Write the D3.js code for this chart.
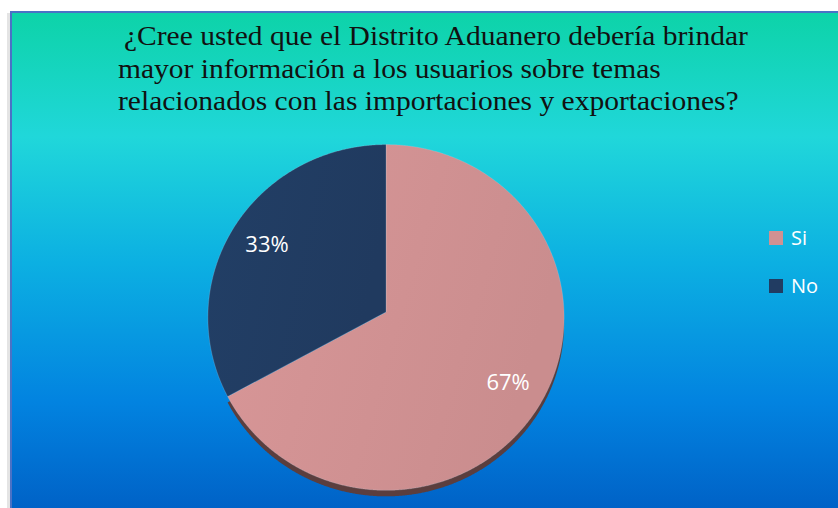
<!DOCTYPE html>
<html><head><meta charset="utf-8">
<script src="https://cdn.jsdelivr.net/npm/d3@7"></script>
<style>html,body{margin:0;padding:0;background:#fff;overflow:hidden}</style>
</head><body>
<svg id="chart" width="838" height="508"></svg>
<script>
// ---- data ----
const categories = ["Si", "No"];
const values = [67, 33];
const labels = ["67%", "33%"];
const colors = ["#d09192", "#213c62"];
const sideColors = ["#5b3e3e", "none"];
const titleLines = [
  "\u00bfCree usted que el Distrito Aduanero deber\u00eda brindar",
  "mayor informaci\u00f3n a los usuarios sobre temas",
  "relacionados con las importaciones y exportaciones?"
];

const svg = d3.select("#chart");
const defs = svg.append("defs");

// background gradient
const bg = defs.append("linearGradient").attr("id","bg").attr("x1",0).attr("y1",0).attr("x2",0).attr("y2",1);
[[0,"#0dd3a8"],[0.25,"#20d7da"],[0.5,"#0cb0e2"],[0.78,"#0283e0"],[1,"#0061c6"]]
  .forEach(([o,c])=>bg.append("stop").attr("offset",o).attr("stop-color",c));

// left shadow + frame
svg.append("rect").attr("x",7).attr("y",13).attr("width",4).attr("height",495).attr("fill","#e4e4e4");
svg.append("rect").attr("x",11).attr("y",12).attr("width",830).attr("height",500)
  .attr("fill","url(#bg)").attr("stroke","#4a72c6").attr("stroke-width",2);

// title
const tx = [124,118,118], ty=[45,78,110];
const title = svg.append("g").attr("transform","scale(1.055,1)");
titleLines.forEach((t,i)=>title.append("text")
  .attr("x",tx[i]/1.055).attr("y",ty[i])
  .attr("font-family","'Liberation Serif','Times New Roman',serif")
  .attr("font-size",28).attr("fill","#111").text(t));

// pie with slight perspective
const cx = 386, cy = 312, R = 178, D = 1363, th = 14*Math.PI/180;
function proj(x, y){
  const yy = y*Math.cos(th), z = y*Math.sin(th), s = D/(D - z);
  return [cx + x*s, cy + yy*s];
}
function projContext(){
  const p = d3.path(); let started = false;
  return {
    path: p,
    moveTo(x,y){ const q=proj(x,y); p.moveTo(q[0],q[1]); started=true; },
    lineTo(x,y){ const q=proj(x,y); if(!started){p.moveTo(q[0],q[1]);started=true;} else p.lineTo(q[0],q[1]); },
    arc(x,y,r,a0,a1,ccw){
      let da = a1 - a0;
      if(!ccw && da < 0) da += 2*Math.PI;
      if(ccw && da > 0) da -= 2*Math.PI;
      const n = Math.max(2, Math.ceil(Math.abs(da)/0.005));
      for(let i=0;i<=n;i++){
        const a = a0 + da*i/n;
        this.lineTo(x + r*Math.cos(a), y + r*Math.sin(a));
      }
    },
    closePath(){ p.closePath(); },
    rect(){}
  };
}
const pie = d3.pie().sort(null).value(d=>d)(values);
const arcGen = d3.arc().innerRadius(0).outerRadius(R);
function projPath(d){ const c = projContext(); arcGen.context(c)(d); return c.path.toString(); }

// gradients for slices
colors.forEach((c,i)=>{
  const g = defs.append("linearGradient").attr("id","sg"+i).attr("x1",0).attr("y1",0).attr("x2",1).attr("y2",0.3);
  g.append("stop").attr("offset",0).attr("stop-color",d3.color(c).brighter(0.12));
  g.append("stop").attr("offset",1).attr("stop-color",d3.color(c).darker(0.08));
});

// side (depth)
svg.append("g").attr("transform","translate(0,6)").selectAll("path").data(pie).join("path")
  .attr("d",projPath).attr("fill",(d,i)=>sideColors[i]);
// top face
svg.append("g").selectAll("path").data(pie).join("path")
  .attr("d",projPath).attr("fill",(d,i)=>`url(#sg${i})`)
  .attr("stroke","rgba(190,215,235,0.45)").attr("stroke-width",0.5);

// labels
const lblArc = d3.arc().innerRadius(140).outerRadius(140);
svg.append("g").selectAll("text").data(pie).join("text")
  .attr("transform",d=>{ const c=lblArc.centroid(d); const q=proj(c[0],c[1]); return `translate(${q[0]},${q[1]})`; })
  .attr("text-anchor","middle").attr("dy","0.36em")
  .attr("font-family","'Open Sans',sans-serif").attr("font-size",22).attr("fill","#fff")
  .text((d,i)=>labels[i]);

// legend
const lg = svg.append("g").selectAll("g").data(categories).join("g")
  .attr("transform",(d,i)=>`translate(769,${231+i*48})`);
lg.append("rect").attr("width",14).attr("height",14).attr("fill",(d,i)=>colors[i]);
lg.append("text").attr("x",22).attr("y",14).attr("font-family","'Open Sans',sans-serif")
  .attr("font-size",20).attr("fill","#fff").text(d=>d);
</script>
</body></html>
